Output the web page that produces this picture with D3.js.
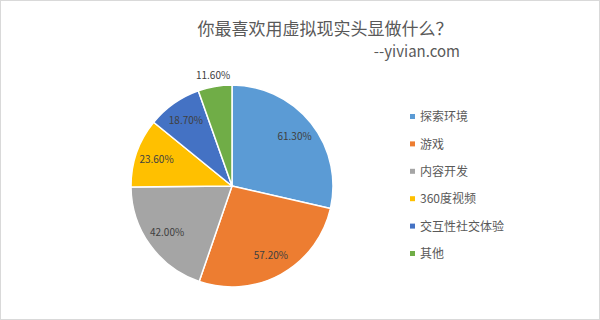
<!DOCTYPE html>
<html>
<head>
<meta charset="utf-8">
<script src="https://cdn.jsdelivr.net/npm/d3@7"></script>
<style>
    body { margin: 0; background: #fff; }
    text { font-family: "Noto Sans CJK SC", "Microsoft YaHei", sans-serif; }
</style>
</head>
<body>
<svg id="chart" width="600" height="320"></svg>
<script>
'use strict';

// chart data
var categories = ['探索环境', '游戏', '内容开发', '360度视频', '交互性社交体验', '其他'];
var values = [61.3, 57.2, 42.0, 23.6, 18.7, 11.6];
var colors = ['#5B9BD5', '#ED7D31', '#A5A5A5', '#FFC000', '#4472C4', '#70AD47'];
var title = '你最喜欢用虚拟现实头显做什么？';
var subtitle = '--yivian.com';

var width = 600,
    height = 320,
    radius = 101;

var svg = d3.select('#chart');

// outer frame
svg.append('rect')
    .attr('x', 0.5)
    .attr('y', 0.5)
    .attr('width', width - 1)
    .attr('height', height - 1)
    .attr('fill', '#fff')
    .attr('stroke', '#d9d9d9');

svg.append('text')
    .attr('x', 325)
    .attr('y', 35)
    .attr('text-anchor', 'middle')
    .attr('font-size', '17px')
    .attr('fill', '#595959')
    .text(title);

svg.append('text')
    .attr('x', 460)
    .attr('y', 57)
    .attr('text-anchor', 'end')
    .attr('font-size', '15px')
    .attr('fill', '#595959')
    .text(subtitle);

var color = d3.scaleOrdinal().domain(categories).range(colors);

var pie = d3.pie()
    .sort(null)
    .value(function (d, i) { return values[i]; });

var arcs = pie(categories);

var arc = d3.arc().innerRadius(0).outerRadius(radius);
var labelArc = d3.arc().innerRadius(80).outerRadius(80);
var outerArc = d3.arc().innerRadius(112).outerRadius(112);

var g = svg.append('g')
    .attr('transform', 'translate(232,186)');

g.selectAll('path')
    .data(arcs)
    .enter().append('path')
    .attr('d', arc)
    .attr('fill', function (d) { return color(d.data); })
    .attr('stroke', '#fff')
    .attr('stroke-width', 1.5)
    .attr('stroke-linejoin', 'round');

// data labels, the small last slice gets its label outside
g.selectAll('text.lbl')
    .data(arcs)
    .enter().append('text')
    .attr('class', 'lbl')
    .attr('transform', function (d, i) {
        var a = (i === arcs.length - 1) ? outerArc : labelArc;
        return 'translate(' + a.centroid(d) + ')';
    })
    .attr('dy', '0.35em')
    .attr('text-anchor', 'middle')
    .attr('font-size', '10px')
    .attr('fill', '#404040')
    .text(function (d, i) { return values[i].toFixed(2) + '%'; });

// legend
var legend = svg.append('g')
    .attr('transform', 'translate(410,117)');

var rows = legend.selectAll('g')
    .data(categories)
    .enter().append('g')
    .attr('transform', function (d, i) { return 'translate(0,' + (i * 27.4) + ')'; });

rows.append('rect')
    .attr('x', 0)
    .attr('y', -3)
    .attr('width', 5)
    .attr('height', 5)
    .attr('fill', function (d) { return color(d); });

rows.append('text')
    .attr('x', 10)
    .attr('y', 0)
    .attr('dy', '0.35em')
    .attr('font-size', '12px')
    .attr('fill', '#595959')
    .text(function (d) { return d; });
</script>
</body>
</html>
